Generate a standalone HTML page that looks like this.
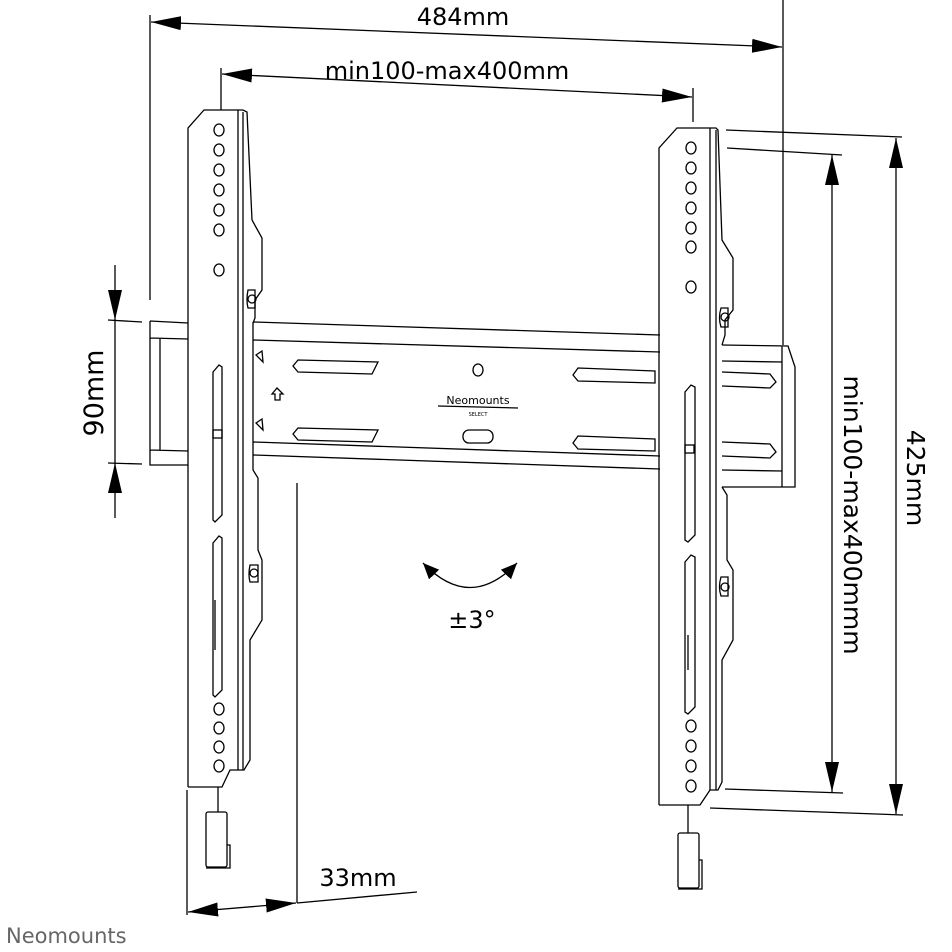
<!DOCTYPE html>
<html><head><meta charset="utf-8"><style>
html,body{margin:0;padding:0;background:#fff;}
svg{display:block;}
text{font-family:"DejaVu Sans","Liberation Sans",sans-serif;fill:#000;}
</style></head><body>
<svg width="952" height="952" viewBox="0 0 952 952" xmlns="http://www.w3.org/2000/svg">
<defs>
<marker id="a" viewBox="0 0 30 14" refX="30" refY="7" markerWidth="30" markerHeight="14" markerUnits="userSpaceOnUse" orient="auto-start-reverse"><path d="M0,0 L30,7 L0,14 z" fill="#000"/></marker>
<marker id="b" viewBox="0 0 16 14" refX="16" refY="7" markerWidth="16" markerHeight="14" markerUnits="userSpaceOnUse" orient="auto-start-reverse"><path d="M0,0 L16,7 L0,14 z" fill="#000"/></marker>
</defs>
<g stroke="#000" stroke-width="1.3" fill="none">
<line x1="150" y1="15" x2="150" y2="300"/>
<line x1="783" y1="0" x2="783" y2="345"/>
<line x1="151" y1="22" x2="782" y2="47" marker-start="url(#a)" marker-end="url(#a)"/>
<line x1="221" y1="68" x2="221" y2="110"/>
<line x1="693" y1="88" x2="693" y2="122"/>
<line x1="222" y1="74" x2="692" y2="97" marker-start="url(#a)" marker-end="url(#a)"/>
<line x1="727" y1="148" x2="842" y2="155"/>
<line x1="725" y1="789" x2="843" y2="793"/>
<line x1="832" y1="155" x2="832" y2="792" marker-start="url(#a)" marker-end="url(#a)"/>
<line x1="726" y1="130" x2="902" y2="137"/>
<line x1="710" y1="808" x2="903" y2="815"/>
<line x1="896" y1="138" x2="896" y2="814" marker-start="url(#a)" marker-end="url(#a)"/>
<line x1="115" y1="265" x2="115" y2="320" marker-end="url(#a)"/>
<line x1="115" y1="320" x2="115" y2="463"/>
<line x1="115" y1="518" x2="115" y2="463" marker-end="url(#a)"/>
<line x1="108" y1="320" x2="142" y2="322"/>
<line x1="108" y1="463" x2="142" y2="464"/>
<line x1="187" y1="790" x2="187" y2="915"/>
<line x1="297" y1="483" x2="297" y2="903"/>
<line x1="188" y1="912" x2="296" y2="903" marker-start="url(#a)" marker-end="url(#a)"/>
<line x1="297" y1="903" x2="417" y2="892"/>
<path d="M423,563 Q470,612 517,563" marker-start="url(#b)" marker-end="url(#b)"/>

<path d="M150,321 L188,323 M150,321 L150,465 L188,465 M150,338 L188,339 M150,450 L188,451 M160,339 L160,450"/>
<path d="M253,322 L660,335 M253,340 L660,352 M253,442 L660,456 M253,455 L660,469 M253,322 L253,470"/>
<path d="M298,360 L378,362 L372,374 L298,372 L293,366 Z"/>
<path d="M578,368 L655,371 L655,383 L578,381 L573,375 Z"/>
<path d="M298,428 L378,430 L372,442 L298,440 L293,434 Z"/>
<path d="M578,436 L655,439 L655,451 L578,449 L573,443 Z"/>
<path d="M256,355 L262,351 L263,362 Z M256,423 L262,419 L263,430 Z"/>
<ellipse cx="478" cy="370" rx="5" ry="6"/>
<rect x="463" y="430" width="30" height="13" rx="6"/>
<path d="M277,388 L272,394 L275,394 L275,400 L280,400 L280,394 L283,394 Z"/>
<line x1="438" y1="406" x2="518" y2="408"/>
<path d="M722,345 L788,346 L795,367 L795,487 L722,487 M722,361 L782,362 M722,470 L782,471 M782,346 L782,487"/>
<path d="M722,372 L770,374 L776,382 L770,388 L722,386"/>
<path d="M722,442 L770,444 L776,452 L770,458 L722,456"/>

<path d="M188,787 L188,128 L204,110 L243,110 L247,112 L252,220 L262,238 L262,290 L255,300 L255,318 L253,323"/>
<path d="M253,470 L258,478 L258,550 L262,560 L262,620 L250,640 L250,760 L244,770 L230,770 L222,787 L188,787"/>
<line x1="238" y1="110" x2="238" y2="770"/>
<line x1="243" y1="112" x2="243" y2="770"/>
<path d="M248,290 Q246,300 248,308 L255,308 L255,290 Z"/>
<circle cx="252" cy="299" r="4"/>
<path d="M250,565 Q248,575 250,582 L258,582 L258,565 Z"/>
<circle cx="254" cy="573" r="4"/>
<line x1="218" y1="787" x2="218" y2="812"/>
<rect x="206" y="812" width="21" height="55" rx="2"/>
<path d="M227,845 L230,845 L230,868 L206,868"/>
<path d="M213,372 L219,365 L222,367 L222,515 L215,522 L213,520 Z"/>
<path d="M213,543 L219,536 L222,538 L222,690 L215,697 L213,695 Z"/>
<rect x="213" y="430" width="9" height="8"/>
<line x1="215" y1="600" x2="215" y2="650"/>
<g>
<ellipse cx="219" cy="130" rx="5" ry="6"/><ellipse cx="219" cy="150" rx="5" ry="6"/><ellipse cx="219" cy="170" rx="5" ry="6"/><ellipse cx="219" cy="190" rx="5" ry="6"/><ellipse cx="219" cy="210" rx="5" ry="6"/><ellipse cx="219" cy="230" rx="5" ry="6"/><ellipse cx="219" cy="270" rx="5" ry="6"/>
<ellipse cx="219" cy="709" rx="5" ry="6"/><ellipse cx="219" cy="728" rx="5" ry="6"/><ellipse cx="219" cy="747" rx="5" ry="6"/><ellipse cx="219" cy="766" rx="5" ry="6"/>
</g>

<path d="M659,805 L659,148 L677,128 L716,128 L718,130 L722,240 L733,258 L733,310 L725,320 L725,335 L722,345"/>
<path d="M722,487 L727,495 L727,560 L733,570 L733,640 L722,660 L722,782 L718,790 L710,790 L700,805 L659,805"/>
<line x1="710" y1="128" x2="710" y2="790"/>
<line x1="716" y1="130" x2="716" y2="790"/>
<path d="M721,308 Q718,318 721,327 L728,327 L728,308 Z"/>
<circle cx="725" cy="317" r="4"/>
<path d="M721,577 Q718,587 721,596 L728,596 L728,577 Z"/>
<circle cx="725" cy="587" r="4"/>
<line x1="688" y1="805" x2="688" y2="833"/>
<rect x="678" y="833" width="21" height="55" rx="2"/>
<path d="M699,860 L702,860 L702,889 L678,889"/>
<path d="M685,392 L691,385 L695,387 L695,535 L688,542 L685,540 Z"/>
<path d="M685,562 L691,555 L695,557 L695,707 L688,714 L685,712 Z"/>
<rect x="685" y="445" width="9" height="8"/>
<line x1="688" y1="635" x2="688" y2="670"/>
<g>
<ellipse cx="691" cy="148" rx="5" ry="6"/><ellipse cx="691" cy="168" rx="5" ry="6"/><ellipse cx="691" cy="188" rx="5" ry="6"/><ellipse cx="691" cy="208" rx="5" ry="6"/><ellipse cx="691" cy="228" rx="5" ry="6"/><ellipse cx="691" cy="247" rx="5" ry="6"/><ellipse cx="691" cy="287" rx="5" ry="6"/>
<ellipse cx="691" cy="726" rx="5" ry="6"/><ellipse cx="691" cy="746" rx="5" ry="6"/><ellipse cx="691" cy="766" rx="5" ry="6"/><ellipse cx="691" cy="786" rx="5" ry="6"/>
</g>
</g>

<text x="463" y="25" font-size="24" text-anchor="middle">484mm</text>
<text x="447" y="79" font-size="24" text-anchor="middle">min100-max400mm</text>
<text x="358" y="886" font-size="24" text-anchor="middle">33mm</text>
<text x="472" y="628" font-size="24" text-anchor="middle">±3°</text>
<text x="478" y="404" font-size="11" text-anchor="middle" font-family="Liberation Serif, serif">Neomounts</text>
<text x="478" y="416" font-size="5" text-anchor="middle">SELECT</text>
<text transform="translate(103,393) rotate(-90)" font-size="27" text-anchor="middle">90mm</text>
<text transform="translate(844,515) rotate(90)" font-size="25" text-anchor="middle">min100-max400mmm</text>
<text transform="translate(907,478) rotate(90)" font-size="25" text-anchor="middle">425mm</text>
<text x="6" y="943" font-size="21" style="fill:#666">Neomounts</text>
</svg>
</body></html>
